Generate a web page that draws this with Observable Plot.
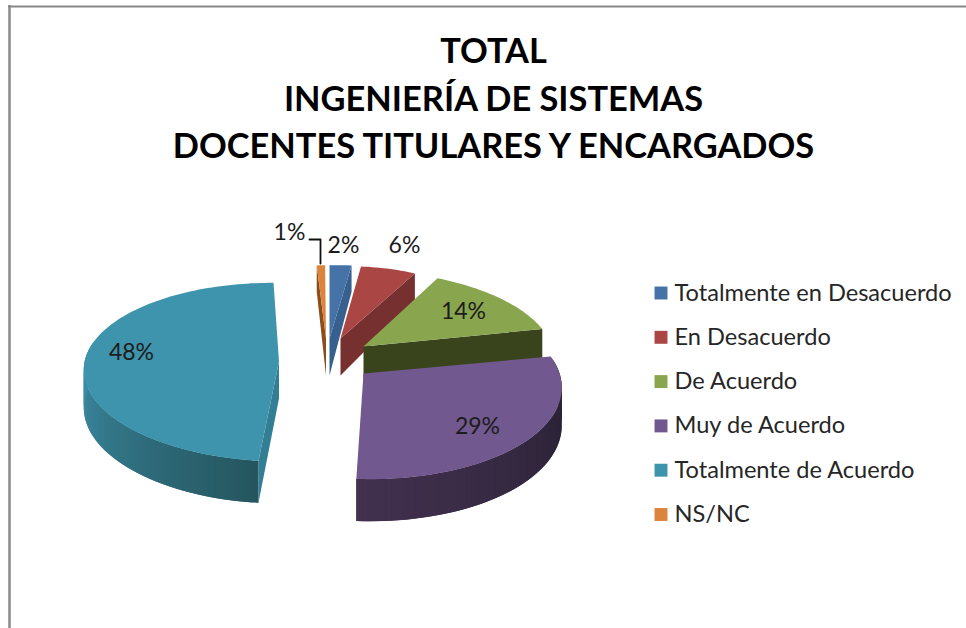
<!DOCTYPE html>
<html>
<head>
<meta charset="utf-8">
<style>html,body{margin:0;padding:0;background:#fff}svg{display:block}</style>
<script src="https://cdn.jsdelivr.net/npm/d3@7"></script>
<script src="https://cdn.jsdelivr.net/npm/@observablehq/plot@0.6"></script>
</head>
<body>
<div id="chart"></div>
<script>
const titleLines = ["TOTAL", "INGENIERÍA DE SISTEMAS", "DOCENTES TITULARES Y ENCARGADOS"];
const categories = ["Totalmente en Desacuerdo", "En Desacuerdo", "De Acuerdo", "Muy de Acuerdo", "Totalmente de Acuerdo", "NS/NC"];
const percents = [2, 6, 14, 29, 48, 1];
const topColors = ["#4573a7", "#aa4643", "#89a54e", "#71588f", "#3f94ad", "#db843d"];
const edgeColors = ["#38608f", "#76302f", "#3a441c", "#2a2235", "#327f95", "#8a4d1c"];
const rimFrom = ["#38608f", "#76302f", "#3a441c", "#2a2235", "#3c8ca5", "#8a4d1c"];
const rimTo = ["#38608f", "#76302f", "#3a441c", "#42304f", "#25565f", "#8a4d1c"];

// Exploded 3-D placement of every slice: where its tip falls and how its disc is skewed.
const placement = [
  {ax: 329, ay: 338, A: 197, B: 0, C: -3, D: -82},
  {ax: 340, ay: 338, A: 167, B: 2, C: -2, D: -81},
  {ax: 363, ay: 346, A: 188, B: -10, C: -2, D: -85},
  {ax: 363, ay: 373, A: 196, B: -6, C: 0, D: -93},
  {ax: 278.5, ay: 361, A: 193, B: 6, C: 5, D: -88},
  {ax: 325.5, ay: 338, A: 149, B: -1, C: 0, D: -82}
];
const perspective = 0.12, thickness = 37, drawOrder = [5, 0, 1, 2, 3, 4];

const arcs = d3.pie().sort(null)(percents);
const W = 966, H = 628;

function rim(p, t, drop) {
  const s = Math.sin(t), c = Math.cos(t), w = 1 + perspective * c;
  const d = drop ? thickness / Math.pow(w, c > 0 ? 3 : 1) : 0;
  return [p.ax + (p.A * s + p.B * c) / w, p.ay + (p.C * s + p.D * c) / w + d];
}
function tip(p, drop) { return [p.ax, p.ay + (drop ? thickness : 0)]; }

const polys = [];
let nid = 0;
function add(points, color) {
  const id = nid++;
  for (const [x, y] of points) polys.push({x, y, id, color});
}
const step = Math.PI / 180 * 1.5;
for (const i of drawOrder) {
  const p = placement[i], a0 = arcs[i].startAngle, a1 = arcs[i].endAngle;
  const n = Math.max(2, Math.ceil((a1 - a0) / step));
  const ts = d3.range(n + 1).map(k => a0 + (a1 - a0) * k / n);
  // radial side walls that face the viewer
  if (Math.sin(a0) < 0) add([tip(p), rim(p, a0), rim(p, a0, true), tip(p, true)], edgeColors[i]);
  if (Math.sin(a1) > 0) add([tip(p), rim(p, a1), rim(p, a1, true), tip(p, true)], edgeColors[i]);
  // outer wall, strip by strip, each strip reaching into the next so no seam shows
  const shade = d3.interpolateRgb(rimFrom[i], rimTo[i]);
  for (let k = 0; k < n; k++) {
    const mid = (ts[k] + ts[k + 1]) / 2;
    if (Math.cos(mid) > 0.15) continue;
    const deg = mid * 180 / Math.PI;
    const f = i === 4 ? Math.min(1, Math.max(0, (265 - deg) / 81)) : Math.min(1, Math.max(0, (deg - 100) / 83));
    const far = ts[Math.min(n, k + 2)];
    add([rim(p, ts[k]), rim(p, far), rim(p, far, true), rim(p, ts[k], true)], shade(f));
  }
  // top face
  add([tip(p), ...ts.map(t => rim(p, t))], topColors[i]);
}

const pctLabels = percents.map(v => v + "%");
const pctX = [343, 404, 463, 477, 131, 289];
const pctY = [245, 245, 311, 426, 352, 232];
const labelRows = pctLabels.map((text, i) => ({text, x: pctX[i], y: pctY[i]}));
const leaderX = [309, 320, 320];
const leaderY = [239, 239, 263];
const leader = leaderX.map((x, i) => ({x, y: leaderY[i]}));
const legendRows = categories.map((name, i) => ({name, y: 292.5 + i * 44.3, color: topColors[i]}));
const titleRows = titleLines.map((text, i) => ({text, y: 51.5 + i * 47.5}));

const chart = Plot.plot({
  width: W, height: H, margin: 0,
  x: {domain: [0, W], range: [0, W], axis: null},
  y: {domain: [0, H], range: [0, H], axis: null},
  color: {type: "identity"},
  style: {background: "#fff"},
  marks: [
    Plot.ruleY([6], {x1: 8, x2: W, stroke: "#888", strokeWidth: 2}),
    Plot.ruleX([9], {y1: 5, y2: H, stroke: "#888", strokeWidth: 2.5}),
    Plot.line(polys, {x: "x", y: "y", z: "id", fill: "color", stroke: "none", curve: "linear-closed"}),
    Plot.line(leader, {x: "x", y: "y", stroke: "#111", strokeWidth: 1.8}),
    Plot.text(labelRows, {x: "x", y: "y", text: "text", fontFamily: "Lato", fontSize: 23, fill: "#1c1c1c", textAnchor: "middle", lineAnchor: "middle"}),
    Plot.dot(legendRows, {x: 660.5, y: "y", symbol: "square", r: 7.3, fill: "color", stroke: "none"}),
    Plot.text(legendRows, {x: 674, y: "y", text: "name", fontFamily: "Lato", fontSize: 23.6, fill: "#262626", textAnchor: "start", lineAnchor: "middle"}),
    Plot.text(titleRows, {x: 493, y: "y", text: "text", fontFamily: "Lato", fontWeight: "bold", fontSize: 34.4, fill: "#000", textAnchor: "middle", lineAnchor: "middle"})
  ]
});
document.getElementById("chart").append(chart);
</script>
</body>
</html>
